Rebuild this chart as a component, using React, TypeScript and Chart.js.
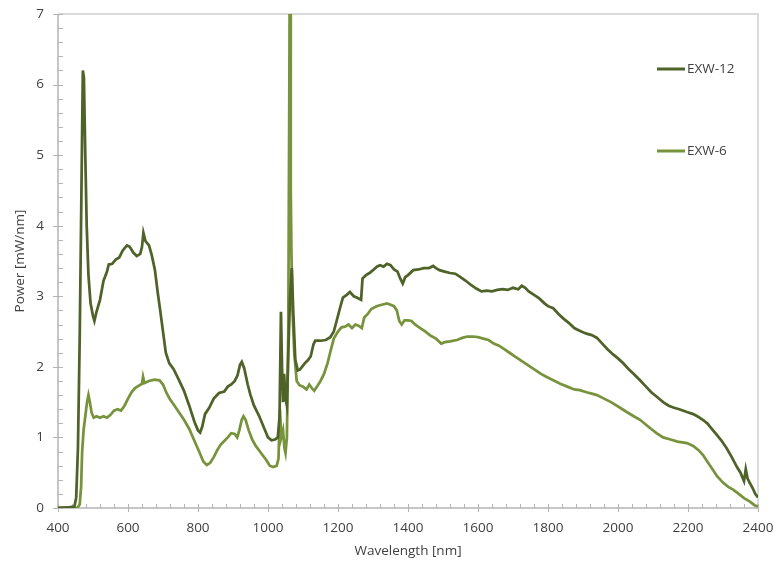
import React, { useEffect, useRef } from "react";
import { Chart, registerables } from "chart.js";

Chart.register(...registerables);

// ---- Axes ----
const xMin = 400;
const xMax = 2400;
const xMajor = 200;
const xMinor = 40;
const yMin = 0;
const yMax = 7;
const yMajor = 1;
const yMinor = 0.2;
const xTitle = "Wavelength [nm]";
const yTitle = "Power [mW/nm]";

// ---- Series ----
const seriesNames = ["EXW-12", "EXW-6"];
const seriesColors = ["#4f6228", "#77933c"];

const wl12 = [
  400, 430, 447, 452, 457, 462, 467, 471, 474, 478, 482, 487, 493, 500, 504, 510, 520, 530, 540, 545,
  555, 565, 575, 585, 597, 605, 615, 625, 635, 640, 644, 650, 660, 668, 677, 685, 692, 700, 708, 718,
  730, 745, 760, 775, 790, 800, 806, 812, 820, 832, 845, 860, 875, 885, 895, 905, 913, 920, 925, 932,
  942, 950, 960, 975, 990, 1000, 1010, 1020, 1028, 1033, 1037, 1040, 1043, 1046, 1050, 1054, 1058, 1063, 1068, 1072,
  1078, 1085, 1091, 1105, 1115, 1122, 1130, 1135, 1150, 1165, 1178, 1188, 1196, 1205, 1214, 1225, 1234, 1245, 1255, 1266,
  1270, 1280, 1290, 1300, 1311, 1320, 1330, 1340, 1350, 1360, 1370, 1378, 1385, 1392, 1400, 1415, 1430, 1445, 1460, 1472,
  1480, 1490, 1505, 1520, 1535, 1550, 1565, 1580, 1595, 1610, 1625, 1640, 1655, 1670, 1685, 1700, 1715, 1725, 1735, 1745,
  1760, 1775, 1790, 1800, 1815, 1830, 1845, 1860, 1875, 1883, 1895, 1910, 1925, 1940, 1955, 1970, 1985, 2000, 2015, 2030,
  2045, 2063, 2080, 2095, 2110, 2129, 2145, 2160, 2175, 2197, 2215, 2230, 2245, 2255, 2265, 2280, 2295, 2310, 2325, 2340,
  2350, 2360, 2365, 2370, 2377, 2385, 2392, 2400,
];
const power12 = [
  0, 0.01, 0.02, 0.15, 0.85, 2.4, 4.5, 6.2, 6.1, 5.0, 4.0, 3.3, 2.9, 2.72, 2.65, 2.78, 2.95, 3.22, 3.35, 3.45,
  3.46, 3.52, 3.55, 3.65, 3.72, 3.7, 3.62, 3.57, 3.6, 3.7, 3.9, 3.78, 3.72, 3.58, 3.37, 3.05, 2.8, 2.5, 2.2, 2.05,
  1.97, 1.82, 1.66, 1.45, 1.22, 1.1, 1.07, 1.15, 1.33, 1.42, 1.55, 1.63, 1.65, 1.72, 1.75, 1.8, 1.88, 2.03, 2.07, 1.98,
  1.75, 1.6, 1.45, 1.3, 1.12, 1.0, 0.96, 0.97, 1.0, 1.3, 2.78, 2.0, 1.5, 1.9, 1.55, 1.45, 2.2, 3.0, 3.4, 2.8,
  2.1, 1.95, 1.96, 2.05, 2.1, 2.15, 2.32, 2.37, 2.37, 2.38, 2.42, 2.5, 2.65, 2.82, 2.98, 3.02, 3.06, 3.0, 2.98, 2.95,
  3.25, 3.3, 3.33, 3.37, 3.42, 3.44, 3.42, 3.46, 3.44, 3.38, 3.35, 3.25, 3.18, 3.27, 3.3, 3.37, 3.38, 3.4, 3.4, 3.43,
  3.4, 3.37, 3.35, 3.33, 3.32, 3.27, 3.22, 3.16, 3.11, 3.07, 3.08, 3.07, 3.09, 3.1, 3.09, 3.12, 3.1, 3.15, 3.12, 3.07,
  3.02, 2.97, 2.9, 2.86, 2.83, 2.75, 2.68, 2.62, 2.55, 2.53, 2.5, 2.47, 2.45, 2.41, 2.33, 2.25, 2.18, 2.12, 2.05, 1.97,
  1.9, 1.81, 1.72, 1.64, 1.58, 1.5, 1.45, 1.42, 1.4, 1.36, 1.33, 1.29, 1.24, 1.2, 1.14, 1.05, 0.96, 0.85, 0.72, 0.58,
  0.5, 0.38, 0.55, 0.42, 0.35, 0.28, 0.2, 0.15,
];

const wl6 = [
  400, 430, 455, 462, 466, 469, 473, 478, 483, 487, 491, 496, 502, 510, 520, 530, 540, 550, 560, 570,
  580, 590, 600, 610, 620, 630, 640, 643, 647, 660, 675, 690, 700, 710, 720, 730, 745, 760, 775, 790,
  805, 815, 825, 835, 845, 855, 865, 875, 885, 895, 905, 912, 918, 925, 930, 936, 945, 955, 965, 980,
  995, 1005, 1015, 1025, 1030, 1034, 1038, 1043, 1047, 1050, 1054, 1058, 1061, 1063, 1065, 1067, 1070, 1075, 1082, 1090,
  1100, 1110, 1118, 1125, 1132, 1140, 1150, 1160, 1170, 1180, 1188, 1200, 1210, 1220, 1230, 1240, 1250, 1260, 1268, 1275,
  1285, 1295, 1310, 1325, 1340, 1350, 1360, 1368, 1375, 1382, 1390, 1400, 1410, 1420, 1435, 1450, 1465, 1480, 1495, 1505,
  1520, 1540, 1555, 1570, 1585, 1600, 1615, 1630, 1645, 1660, 1675, 1690, 1705, 1720, 1735, 1750, 1765, 1780, 1795, 1815,
  1835, 1855, 1875, 1891, 1910, 1925, 1940, 1960, 1980, 2006, 2025, 2045, 2063, 2080, 2095, 2110, 2129, 2150, 2170, 2197,
  2215, 2230, 2243, 2255, 2270, 2283, 2300, 2315, 2329, 2345, 2360, 2377, 2390, 2400,
];
const power6 = [
  0, 0.01, 0.0, 0.05, 0.3, 0.8, 1.1, 1.3, 1.5, 1.6, 1.5, 1.35, 1.28, 1.3, 1.28, 1.3, 1.28, 1.32, 1.38, 1.4,
  1.38, 1.45, 1.55, 1.64, 1.7, 1.73, 1.76, 1.86, 1.77, 1.8, 1.82, 1.81, 1.75, 1.63, 1.54, 1.47, 1.36, 1.25, 1.12, 0.95,
  0.78, 0.66, 0.61, 0.64, 0.72, 0.82, 0.9, 0.95, 1.0, 1.06, 1.05, 1.0, 1.1, 1.25, 1.3, 1.25, 1.1, 0.97, 0.88, 0.78,
  0.68, 0.6, 0.58, 0.6, 0.7, 1.4, 1.0, 1.1, 0.85, 0.78, 1.0, 2.5, 6.0, 9.0, 4.5, 3.6, 2.8, 2.2, 1.8, 1.74,
  1.72, 1.68, 1.75, 1.7, 1.66, 1.72, 1.8, 1.9, 2.05, 2.25, 2.4, 2.5, 2.56, 2.57, 2.6, 2.55, 2.6, 2.58, 2.55, 2.7,
  2.75, 2.82, 2.86, 2.88, 2.9, 2.88, 2.86, 2.8, 2.65, 2.6, 2.66, 2.66, 2.65, 2.6, 2.55, 2.5, 2.44, 2.4, 2.33, 2.35,
  2.36, 2.38, 2.41, 2.43, 2.43, 2.42, 2.4, 2.38, 2.33, 2.3, 2.25, 2.2, 2.15, 2.1, 2.05, 2.0, 1.95, 1.9, 1.86, 1.81,
  1.76, 1.72, 1.68, 1.67, 1.64, 1.62, 1.6, 1.55, 1.5, 1.42, 1.36, 1.3, 1.25, 1.18, 1.12, 1.06, 1.0, 0.97, 0.94, 0.92,
  0.88, 0.82, 0.75, 0.66, 0.55, 0.45, 0.36, 0.3, 0.26, 0.2, 0.14, 0.09, 0.04, 0.02,
];

const FONT = "'Open Sans', 'Liberation Sans', sans-serif";
const TEXT_COLOR = "#404040";

const decorPlugin = {
  id: "decor",
  beforeDatasetsDraw(chart: any) {
    const { ctx, chartArea, scales } = chart;
    const { left, right, top, bottom } = chartArea;
    const xs = scales.x;
    const ys = scales.y;
    ctx.save();
    // frame top / right
    ctx.strokeStyle = "#d0d0d0";
    ctx.lineWidth = 1.5;
    ctx.beginPath();
    ctx.moveTo(left, top);
    ctx.lineTo(right, top);
    ctx.lineTo(right, bottom);
    ctx.stroke();
    // axes
    ctx.strokeStyle = "#b4b4b4";
    ctx.beginPath();
    ctx.moveTo(left, top);
    ctx.lineTo(left, bottom);
    ctx.lineTo(right, bottom);
    ctx.stroke();
    ctx.lineWidth = 1;
    ctx.beginPath();
    for (let v = xMin; v <= xMax + 0.001; v += xMinor) {
      const px = Math.round(xs.getPixelForValue(v)) + 0.5;
      const major = Math.abs(v / xMajor - Math.round(v / xMajor)) < 1e-6;
      ctx.moveTo(px, bottom - 4);
      ctx.lineTo(px, bottom + (major ? 4 : 0));
    }
    for (let v = yMin; v <= yMax + 0.001; v += yMinor) {
      const py = Math.round(ys.getPixelForValue(v)) + 0.5;
      const major = Math.abs(v / yMajor - Math.round(v / yMajor)) < 1e-6;
      ctx.moveTo(left + 5, py);
      ctx.lineTo(left - (major ? 5 : 0), py);
    }
    ctx.stroke();
    ctx.restore();
  },
  afterDraw(chart: any) {
    const { ctx, chartArea } = chart;
    const rows = [55, 137];
    ctx.save();
    ctx.font = `13.5px ${FONT}`;
    ctx.textBaseline = "middle";
    ctx.textAlign = "left";
    seriesNames.forEach((name, i) => {
      const yy = chartArea.top + rows[i];
      ctx.strokeStyle = seriesColors[i];
      ctx.lineWidth = 3;
      ctx.beginPath();
      ctx.moveTo(chartArea.right - 101, yy);
      ctx.lineTo(chartArea.right - 73, yy);
      ctx.stroke();
      ctx.fillStyle = TEXT_COLOR;
      ctx.fillText(name, chartArea.right - 71, yy);
    });
    ctx.restore();
  },
};

export default function App() {
  const canvasRef = useRef<HTMLCanvasElement | null>(null);

  useEffect(() => {
    const canvas = canvasRef.current;
    if (!canvas) return;
    const datasets = [
      { xs: wl12, ys: power12 },
      { xs: wl6, ys: power6 },
    ].map((s, i) => ({
      label: seriesNames[i],
      data: s.xs.map((x, k) => ({ x, y: s.ys[k] })),
      borderColor: seriesColors[i],
      backgroundColor: seriesColors[i],
      borderWidth: 2.75,
      pointRadius: 0,
      tension: 0,
      fill: false,
    }));
    const chart = new Chart(canvas, {
      type: "line",
      data: { datasets },
      options: {
        animation: false,
        responsive: true,
        maintainAspectRatio: false,
        layout: { padding: { left: 0, top: 14, right: 17, bottom: 0 } },
        plugins: {
          legend: { display: false },
          tooltip: { enabled: false },
        },
        scales: {
          x: {
            type: "linear",
            min: xMin,
            max: xMax,
            grid: { display: false, drawTicks: false },
            border: { display: false },
            ticks: {
              stepSize: xMajor,
              padding: 12,
              color: TEXT_COLOR,
              font: { family: FONT, size: 13.5 },
              maxRotation: 0,
              callback: (v: any) => String(v),
            },
            title: {
              display: true,
              text: xTitle,
              color: TEXT_COLOR,
              font: { family: FONT, size: 13.5 },
              padding: { top: 0, bottom: 2 },
            },
            afterFit: (scale: any) => {
              scale.height = 53;
              scale.paddingLeft = 0;
              scale.paddingRight = 0;
            },
          },
          y: {
            type: "linear",
            min: yMin,
            max: yMax,
            grid: { display: false, drawTicks: false },
            border: { display: false },
            ticks: {
              stepSize: yMajor,
              padding: 14,
              color: TEXT_COLOR,
              font: { family: FONT, size: 13.5 },
              callback: (v: any) => String(v),
            },
            title: {
              display: true,
              text: yTitle,
              color: TEXT_COLOR,
              font: { family: FONT, size: 13.5 },
              padding: { top: 12, bottom: 0 },
            },
            afterFit: (scale: any) => {
              scale.width = 58;
              scale.paddingTop = 0;
              scale.paddingBottom = 0;
            },
          },
        },
      },
      plugins: [decorPlugin],
    });
    return () => chart.destroy();
  }, []);

  return (
    <div style={{ position: "fixed", left: 0, top: 0, width: 775, height: 561, background: "#fff" }}>
      <canvas ref={canvasRef} />
    </div>
  );
}
